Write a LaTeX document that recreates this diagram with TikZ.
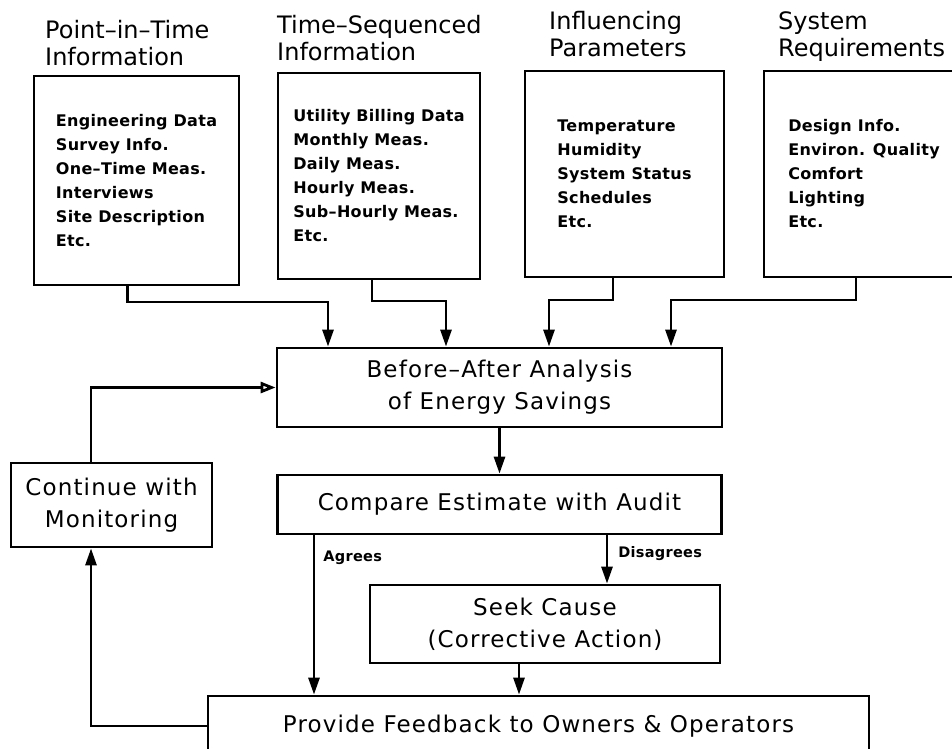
\documentclass[tikz,border=0pt]{standalone}
\usepackage{fontspec}
\newfontfamily\headfont{DejaVu Sans}
\newfontfamily\plotfont[LetterSpace=5]{DejaVu Sans}
\newfontfamily\listfont[LetterSpace=2]{DejaVu Sans}
\usetikzlibrary{arrows.meta,positioning}

\begin{document}
\begin{tikzpicture}[x=1pt,y=-1pt,
	title/.style={anchor=north west,inner sep=0pt,align=left,font=\headfont\fontsize{24}{27}\selectfont},
	listbox/.style={draw,line width=2.8pt,align=left,inner sep=0pt,font=\listfont\bfseries\fontsize{16}{24}\selectfont},
	stepbox/.style={draw,line width=2.8pt,align=center,inner sep=0pt,font=\plotfont\fontsize{23}{32}\selectfont},
	lbl/.style={font=\listfont\bfseries\fontsize{14.5}{16}\selectfont,inner sep=0pt},
	arr/.style={line width=2.8pt,-{Triangle[length=17pt,width=11pt]}},
	openarr/.style={line width=2.8pt,-{Triangle[open,length=15pt,width=11pt]}}]

	\useasboundingbox (0,0) rectangle (952,748);

	% headings over the four source boxes
	\node[title] (pittitle) at (45,20) {Point–in–Time\\Information};
	\node[title] (tsititle) at (277,15) {Time–Sequenced\\Information};
	\node[title] (inftitle) at (549,11) {Influencing\\Parameters};
	\node[title] (sysreqtitle) at (778,11) {System\\Requirements};

	\node[listbox, minimum width=205pt, minimum height=209pt] (pit) at (136.5,180.5) {Engineering Data\\Survey Info.\\One–Time Meas.\\Interviews\\Site Description\\Etc.};
	\node[listbox, minimum width=202pt, minimum height=206pt] (tsi) at (379,176) {Utility Billing Data\\Monthly Meas.\\Daily Meas.\\Hourly Meas.\\Sub–Hourly Meas.\\Etc.};
	\node[listbox, minimum width=199pt, minimum height=206pt] (inf) at (624.5,174) {Temperature\\Humidity\\System Status\\Schedules\\Etc.};
	\node[listbox, minimum width=200pt, minimum height=206pt] (sysreq) at (864,174) {Design Info.\\Environ. Quality\\Comfort\\Lighting\\Etc.};

	\node[stepbox, minimum width=445pt, minimum height=79pt] (analysis) at (499.5,387.5) {Before–After Analysis\\of Energy Savings};
	\node[stepbox, minimum width=444pt, minimum height=59pt] (compare) at (499.5,504.5) {Compare Estimate with Audit};
	\node[stepbox, minimum width=201pt, minimum height=84pt] (monitor) at (111.5,505) {Continue with\\Monitoring};
	\node[stepbox, minimum width=350pt, minimum height=78pt] (seek) at (545,624) {Seek Cause\\(Corrective Action)};
	\node[stepbox, minimum width=661pt, minimum height=60pt] (feedback) at (538.5,726) {Provide Feedback to Owners \& Operators};

	\draw[arr] (127.5,0 |- pit.south) -- (127.5,302) -| (328,0 |- analysis.north);
	\draw[arr] (372,0 |- tsi.south) -- (372,301) -| (446,0 |- analysis.north);
	\draw[arr] (613,0 |- inf.south) -- (613,300) -| (549,0 |- analysis.north);
	\draw[arr] (856,0 |- sysreq.south) -- (856,300) -| (671,0 |- analysis.north);

	\draw[arr] (analysis.south) -- (compare.north);
	\path[arr] (314,0 |- compare.south) edge node[lbl, right=8pt, pos=0.14] {Agrees} (314,0 |- feedback.north);
	\path[arr] (607,0 |- compare.south) edge node[lbl, right=10pt, pos=0.37] {Disagrees} (607,0 |- seek.north);
	\draw[arr] (519,0 |- seek.south) -- (519,0 |- feedback.north);

	\draw[arr] (feedback.west) -| (91,0 |- monitor.south);
	\draw[openarr] (91,0 |- monitor.north) |- (analysis.west);

\end{tikzpicture}
\end{document}
